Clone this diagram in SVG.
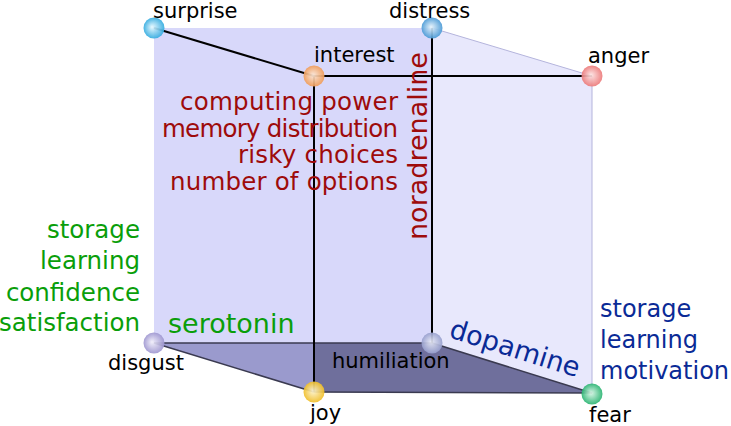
<svg xmlns="http://www.w3.org/2000/svg" width="731" height="426" viewBox="0 0 731 426">
<defs>
<style>
.lbl{font-family:"DejaVu Sans","Liberation Sans",sans-serif;font-size:21px;fill:#000}
.red{font-family:"DejaVu Sans","Liberation Sans",sans-serif;font-size:24.5px;fill:#9e0b0b;text-anchor:end}
.grn{font-family:"DejaVu Sans","Liberation Sans",sans-serif;font-size:24.5px;fill:#0a9e0a;text-anchor:end}
.blu{font-family:"DejaVu Sans","Liberation Sans",sans-serif;font-size:24px;fill:#0a2a96}
.big{font-family:"DejaVu Sans","Liberation Sans",sans-serif;font-size:27px}
.edge{stroke:#000;stroke-width:2;fill:none}
.bedge{stroke:#3a3a50;stroke-width:1.5;fill:none}
.fedge{stroke:#b4b4dc;stroke-width:1;fill:none}
.ball{opacity:0.92}
</style>
<radialGradient id="gSurprise" cx="0.5" cy="0.5" r="0.5" fx="0.4" fy="0.45"><stop offset="0" stop-color="#e6f8ff"/><stop offset="1" stop-color="#34ace0"/></radialGradient>
<radialGradient id="gDistress" cx="0.5" cy="0.5" r="0.5" fx="0.45" fy="0.45"><stop offset="0" stop-color="#e6f2fb"/><stop offset="1" stop-color="#4a9ad6"/></radialGradient>
<radialGradient id="gInterest" cx="0.5" cy="0.5" r="0.5" fx="0.45" fy="0.45"><stop offset="0" stop-color="#fde8d8"/><stop offset="1" stop-color="#f09c58"/></radialGradient>
<radialGradient id="gAnger" cx="0.5" cy="0.5" r="0.5" fx="0.45" fy="0.45"><stop offset="0" stop-color="#fde4e4"/><stop offset="1" stop-color="#ec7a7a"/></radialGradient>
<radialGradient id="gDisgust" cx="0.5" cy="0.5" r="0.5" fx="0.4" fy="0.45"><stop offset="0" stop-color="#f0eefa"/><stop offset="1" stop-color="#9e96d0"/></radialGradient>
<radialGradient id="gHumiliation" cx="0.5" cy="0.5" r="0.5" fx="0.45" fy="0.45"><stop offset="0" stop-color="#e8eaf6"/><stop offset="1" stop-color="#98a0ce"/></radialGradient>
<radialGradient id="gJoy" cx="0.5" cy="0.5" r="0.5" fx="0.45" fy="0.45"><stop offset="0" stop-color="#fdf4d0"/><stop offset="1" stop-color="#f0be28"/></radialGradient>
<radialGradient id="gFear" cx="0.5" cy="0.5" r="0.5" fx="0.45" fy="0.45"><stop offset="0" stop-color="#d8f6e6"/><stop offset="1" stop-color="#2ab472"/></radialGradient>
</defs>

<g id="faces">
<polygon points="154,28 432,28 432,343 154,343" fill="#d8d8fa"/>
<polygon points="432,28 592,76 592,393 432,343" fill="#e8e8fc"/>
<polygon points="154,343 314,343 314,392" fill="#9a9acd"/>
<polygon points="314,343 432,343 592,393 314,392" fill="#6f6f9c"/>
</g>

<g id="connectors">
<polyline class="fedge" points="432,28 592,76 592,393"/>
<line class="bedge" x1="154" y1="343" x2="432" y2="343"/>
<line class="bedge" x1="154" y1="343" x2="314" y2="392"/>
<line class="bedge" x1="314" y1="392" x2="592" y2="393"/>
<line class="bedge" x1="432" y1="343" x2="592" y2="393"/>
<line class="edge" x1="154" y1="28" x2="314" y2="76"/>
<line class="edge" x1="314" y1="76" x2="592" y2="76"/>
<line class="edge" x1="314" y1="76" x2="314" y2="392"/>
<line class="edge" x1="432" y1="28" x2="432" y2="343"/>
</g>

<g id="texts">
<text class="red" x="398" y="110" textLength="218">computing power</text>
<text class="red" x="398" y="137" textLength="236">memory distribution</text>
<text class="red" x="398" y="163" textLength="160">risky choices</text>
<text class="red" x="398" y="190" textLength="228">number of options</text>
<text class="grn" x="140" y="238">storage</text>
<text class="grn" x="140" y="269">learning</text>
<text class="grn" x="140" y="301">confidence</text>
<text class="grn" x="140" y="331">satisfaction</text>
<text class="blu" x="600" y="317">storage</text>
<text class="blu" x="600" y="348">learning</text>
<text class="blu" x="600" y="379">motivation</text>
<text class="big" x="168" y="333" fill="#0a9e0a">serotonin</text>
<text class="big" fill="#9e0b0b" transform="translate(427,240) rotate(-90)">noradrenaline</text>
<text class="big" fill="#0a2a96" transform="translate(448,337) rotate(17.4)">dopamine</text>
</g>

<g id="node-surprise"><circle class="ball" cx="154" cy="28" r="10.5" fill="url(#gSurprise)"/><text class="lbl" x="153" y="18">surprise</text></g>
<g id="node-distress"><circle class="ball" cx="432" cy="28" r="10.5" fill="url(#gDistress)"/><text class="lbl" x="389" y="18">distress</text></g>
<g id="node-interest"><circle class="ball" cx="314" cy="76" r="10.5" fill="url(#gInterest)"/><text class="lbl" x="314" y="62">interest</text></g>
<g id="node-anger"><circle class="ball" cx="592" cy="76" r="10.5" fill="url(#gAnger)"/><text class="lbl" x="588" y="63">anger</text></g>
<g id="node-disgust"><circle class="ball" cx="154" cy="343" r="10.5" fill="url(#gDisgust)"/><text class="lbl" x="108" y="370">disgust</text></g>
<g id="node-humiliation"><circle class="ball" cx="432" cy="343" r="10.5" fill="url(#gHumiliation)"/><text class="lbl" x="332" y="368">humiliation</text></g>
<g id="node-joy"><circle class="ball" cx="314" cy="392" r="10.5" fill="url(#gJoy)"/><text class="lbl" x="310" y="420">joy</text></g>
<g id="node-fear"><circle class="ball" cx="592" cy="394" r="10.5" fill="url(#gFear)"/><text class="lbl" x="589" y="422">fear</text></g>
</svg>
